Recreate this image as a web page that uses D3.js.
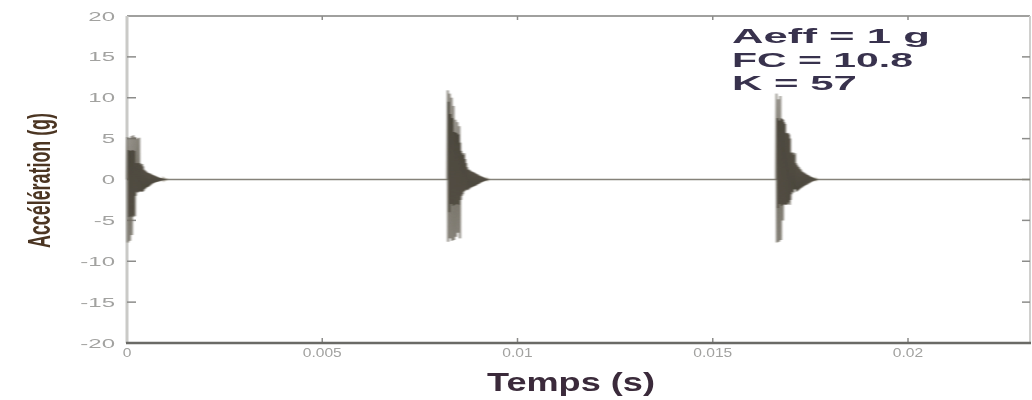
<!DOCTYPE html>
<html>
<head>
<meta charset="utf-8">
<script src="https://cdn.jsdelivr.net/npm/d3@7"></script>
<style>
  html, body { margin: 0; padding: 0; background: #ffffff; }
  svg { display: block; font-family: "Liberation Sans", Arial, sans-serif; }
</style>
</head>
<body>
<svg id="chart" width="1032" height="400"></svg>
<script>
// ---------------- data ----------------
const yTickValues = [-20, -15, -10, -5, 0, 5, 10, 15, 20];
const yTickLabels = ["-20", "-15", "-10", "-5", "0", "5", "10", "15", "20"];
const xTickValues = [0, 0.005, 0.01, 0.015, 0.02];
const xTickLabels = ["0", "0.005", "0.01", "0.015", "0.02"];
const timeEnd = 0.023124;
const sampleInterval = 0.0000125;           // s between samples
const pulseStarts = [0, 0.0082, 0.01662];   // s
const pulse1 = [
  0, 5.2, -7.7, 3.6, -4.6, 5.0, -7.5, 3.5, -4.5, 5.3,
  -6.8, 3.6, -4.6, 5.4, -4.4, 3.5, -4.5, 5.2, -2.0, 2.0,
  -1.5, 5.0, -1.6, 2.0, -1.5, 5.1, -1.5, 2.0, -1.4, 1.8,
  -1.5, 1.9, -1.5, 1.6, -1.4, 1.2, -1.2, 1.1, -1.1, 1.0,
  -1.0, 0.9, -0.9, 0.8, -0.9, 0.8, -0.8, 0.7, -0.7, 0.7,
  -0.6, 0.6, -0.5, 0.55, -0.45, 0.5, -0.4, 0.45, -0.35, 0.4,
  -0.3, 0.35, -0.3, 0.3, -0.25, 0.25, -0.2, 0.2, -0.2, 0.18,
  -0.15, 0.15, -0.12, 0.12, -0.1, 0.1, -0.08, 0.08, -0.06, 0.05,
  -0.04, 0.03, -0.02, 0.01, 0
];
const pulse2 = [
  0, 10.9, -7.6, 9.5, -4.0, 10.5, -7.2, 8.0, -3.0, 10.0,
  -7.5, 7.5, -3.2, 9.0, -7.4, 5.8, -3.1, 7.3, -7.0, 5.7,
  -3.0, 7.0, -6.5, 5.5, -3.1, 6.5, -7.2, 4.5, -2.5, 3.5,
  -2.0, 3.2, -1.8, 3.0, -1.5, 3.2, -1.4, 2.5, -1.3, 2.0,
  -1.2, 1.5, -1.3, 1.2, -1.2, 1.2, -1.1, 1.1, -1.0, 1.0,
  -0.95, 0.95, -0.9, 0.9, -0.85, 0.85, -0.8, 0.8, -0.75, 0.7,
  -0.7, 0.65, -0.6, 0.6, -0.55, 0.5, -0.5, 0.45, -0.4, 0.4,
  -0.35, 0.35, -0.3, 0.3, -0.25, 0.25, -0.2, 0.2, -0.18, 0.15,
  -0.12, 0.1, -0.08, 0.06, -0.04, 0.02, 0
];
const pulse3 = [
  0, 10.5, -7.7, 7.5, -3.5, 9.8, -7.6, 7.2, -3.0, 10.2,
  -7.4, 7.5, -3.2, 7.4, -5.0, 7.3, -3.1, 7.0, -3.0, 6.8,
  -3.1, 5.7, -3.1, 5.6, -3.0, 5.7, -2.8, 5.5, -3.1, 5.0,
  -2.5, 3.3, -1.8, 3.2, -1.5, 3.3, -1.6, 3.0, -1.2, 3.2,
  -1.2, 2.0, -1.5, 1.8, -1.4, 1.6, -1.3, 1.5, -1.2, 1.3,
  -1.1, 1.2, -1.0, 1.0, -0.95, 0.9, -0.85, 0.85, -0.8, 0.75,
  -0.7, 0.7, -0.65, 0.6, -0.6, 0.55, -0.5, 0.5, -0.45, 0.4,
  -0.4, 0.35, -0.3, 0.3, -0.25, 0.25, -0.2, 0.2, -0.18, 0.15,
  -0.12, 0.1, -0.08, 0.06, -0.04, 0.02, 0
];
const pulses = [pulse1, pulse2, pulse3];
const annotationLines = ["Aeff = 1 g", "FC = 10.8", "K = 57"];
const xAxisTitle = "Temps (s)";
const yAxisTitle = "Accélération (g)";

// ---------------- layout ----------------
const plot = { left: 127, right: 1030, top: 16, bottom: 343 };
const svg = d3.select("#chart");

const defs = svg.append("defs");
defs.append("filter").attr("id", "soft").attr("x", "-5%").attr("y", "-5%").attr("width", "110%").attr("height", "110%")
  .append("feGaussianBlur").attr("stdDeviation", "0.55");
defs.append("filter").attr("id", "smear").attr("x", "-20%").attr("y", "-5%").attr("width", "140%").attr("height", "110%")
  .append("feGaussianBlur").attr("stdDeviation", "0.9 0.4");

const root = svg.append("g").attr("filter", "url(#soft)");
root.append("rect").attr("width", 1032).attr("height", 400).attr("fill", "#ffffff");

const x = d3.scaleLinear().domain([0, timeEnd]).range([plot.left, plot.right]);
const y = d3.scaleLinear().domain([-20, 20]).range([plot.bottom, plot.top]);

// frame
root.append("line").attr("x1", plot.left).attr("x2", plot.right).attr("y1", plot.top).attr("y2", plot.top)
  .attr("stroke", "#a0a09e").attr("stroke-width", 2);
root.append("line").attr("x1", plot.right).attr("x2", plot.right).attr("y1", plot.top).attr("y2", plot.bottom)
  .attr("stroke", "#d0d0ce").attr("stroke-width", 2);
root.append("line").attr("x1", plot.left).attr("x2", plot.left).attr("y1", plot.top).attr("y2", plot.bottom)
  .attr("stroke", "#cacac7").attr("stroke-width", 3);

// inner ticks
const innerY = yTickValues.filter(v => v > -20 && v < 20);
root.append("g").selectAll("line").data(innerY).join("line")
  .attr("x1", plot.left).attr("x2", plot.left + 9)
  .attr("y1", d => y(d)).attr("y2", d => y(d))
  .attr("stroke", "#8c8c8a").attr("stroke-width", 1.5);
root.append("g").selectAll("line").data(innerY).join("line")
  .attr("x1", plot.right - 8).attr("x2", plot.right)
  .attr("y1", d => y(d)).attr("y2", d => y(d))
  .attr("stroke", "#8c8c8a").attr("stroke-width", 1.5);
const innerX = xTickValues.filter(v => v > 0);
root.append("g").selectAll("line").data(innerX).join("line")
  .attr("x1", d => x(d)).attr("x2", d => x(d))
  .attr("y1", plot.bottom).attr("y2", plot.bottom - 5)
  .attr("stroke", "#8c8c8a").attr("stroke-width", 1.5);
root.append("g").selectAll("line").data(innerX).join("line")
  .attr("x1", d => x(d)).attr("x2", d => x(d))
  .attr("y1", plot.top).attr("y2", plot.top + 4)
  .attr("stroke", "#8c8c8a").attr("stroke-width", 1.5);

// zero baseline
root.append("line").attr("x1", x(0)).attr("x2", x(timeEnd)).attr("y1", y(0)).attr("y2", y(0))
  .attr("stroke", "#858279").attr("stroke-width", 1.7);

// signal bursts
const line = d3.line().x(d => x(d[0])).y(d => y(d[1]));
const sig = root.append("g").attr("filter", "url(#smear)");
pulses.forEach((vals, k) => {
  const pts = vals.map((v, i) => [pulseStarts[k] + i * sampleInterval, v]);
  sig.append("path").attr("d", line(pts))
    .attr("fill", "none").attr("stroke", "#b2ada0").attr("stroke-width", 1.4);
  sig.append("path").attr("d", line(pts))
    .attr("fill", "none").attr("stroke", "#1f1b12").attr("stroke-width", 0.45);
});

// bottom axis line (drawn on top)
root.append("line").attr("x1", plot.left - 1).attr("x2", plot.right + 1).attr("y1", plot.bottom).attr("y2", plot.bottom)
  .attr("stroke", "#6a6a66").attr("stroke-width", 2.5);

// tick labels
root.append("g").selectAll("text").data(yTickValues).join("text")
  .attr("transform", d => `translate(115,${y(d) + 4.5}) scale(2,1)`)
  .attr("text-anchor", "end").attr("font-size", 12).attr("fill", "#a2a2a0")
  .text((d, i) => yTickLabels[i]);
root.append("g").selectAll("text").data(xTickValues).join("text")
  .attr("transform", d => `translate(${x(d)},357) scale(1.3,1)`)
  .attr("text-anchor", "middle").attr("font-size", 12).attr("fill", "#a2a2a0")
  .text((d, i) => xTickLabels[i]);

// helper: stretch horizontal text to a target width
function stretched(txt, left, baseline, size, width, color) {
  const t = root.append("text").attr("font-size", size).attr("font-weight", "bold")
    .attr("fill", color).text(txt);
  const w = t.node().getComputedTextLength();
  t.attr("transform", `translate(${left},${baseline}) scale(${width / w},1)`);
  return t;
}

// x axis title
stretched(xAxisTitle, 487, 391, 26, 168, "#3a2c3a");

// y axis title (rotated, glyphs stretched horizontally on screen)
const yt = root.append("text").attr("font-size", 19).attr("font-weight", "bold").attr("fill", "#4b3522")
  .attr("text-anchor", "middle").text(yAxisTitle);
const yLen = yt.node().getComputedTextLength();
yt.attr("font-size", 19 * 135 / yLen);
yt.attr("transform", "translate(50,180.5) scale(1.75,1) rotate(-90)");

// annotation
const annWidths = [198, 181, 125];
const annBase = [43, 67, 90];
annotationLines.forEach((s, i) => stretched(s, 732, annBase[i], 21, annWidths[i], "#38314d"));
</script>
</body>
</html>
